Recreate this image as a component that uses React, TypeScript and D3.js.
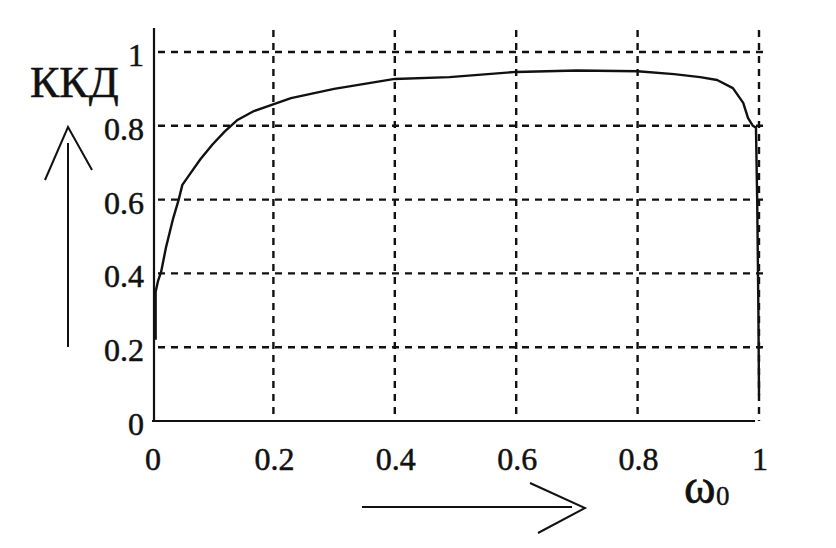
import React from "react";
import * as d3 from "d3";

const effX = [0.006, 0.006, 0.01, 0.015, 0.023, 0.035, 0.044, 0.05, 0.065, 0.08, 0.1, 0.12, 0.14, 0.168, 0.196, 0.229, 0.3, 0.4, 0.49, 0.6, 0.7, 0.8, 0.86, 0.903, 0.931, 0.957, 0.974, 0.982, 0.99, 0.995, 0.997, 0.999, 1.0];
const effY = [0.22, 0.35, 0.38, 0.404, 0.47, 0.55, 0.6, 0.64, 0.675, 0.71, 0.75, 0.785, 0.815, 0.84, 0.856, 0.875, 0.9, 0.927, 0.932, 0.946, 0.95, 0.948, 0.94, 0.932, 0.924, 0.902, 0.862, 0.821, 0.8, 0.795, 0.6, 0.3, 0.07];
const xTicks = [0, 0.2, 0.4, 0.6, 0.8, 1];
const yTicks = [0, 0.2, 0.4, 0.6, 0.8, 1];
const xTickLabels = ["0", "0.2", "0.4", "0.6", "0.8", "1"];
const yTickLabels = ["0", "0.2", "0.4", "0.6", "0.8", "1"];
const yTitle = "ККД";
const xTitle = "ω";
const xTitleSub = "0";

export default function App() {
  const W = 836, H = 548;
  const x = d3.scaleLinear().domain([0, 1]).range([152, 759]);
  const y = d3.scaleLinear().domain([0, 1]).range([421, 52]);
  const pts: [number, number][] = effX.map((v, i) => [v, effY[i]]);
  const line = d3.line<[number, number]>().x(d => x(d[0])).y(d => y(d[1]));
  const font = "'Liberation Serif', 'Times New Roman', serif";
  const dash = "7,6";
  const ink = "#111";
  return (
    <svg width={W} height={H} style={{ position: "absolute", left: 0, top: 0, background: "#fff" }}>
      <rect width={W} height={H} fill="#fff" />
      {/* grid */}
      {yTicks.filter(v => v > 0).map(v => (
        <line key={"h" + v} x1={x(0) + 6} x2={x(1) + 4} y1={y(v)} y2={y(v)} stroke={ink} strokeWidth={2.4} strokeDasharray={dash} />
      ))}
      {xTicks.filter(v => v > 0).map(v => (
        <line key={"v" + v} x1={x(v)} x2={x(v)} y1={30} y2={y(0)} stroke={ink} strokeWidth={2.4} strokeDasharray={dash} />
      ))}
      {/* axes */}
      <line x1={x(0) + 2} x2={x(0) + 2} y1={28} y2={y(0)} stroke={ink} strokeWidth={2.2} />
      <line x1={x(0)} x2={x(1) - 4} y1={y(0)} y2={y(0)} stroke={ink} strokeWidth={2.2} />
      {/* curve */}
      <path d={line(pts) || ""} fill="none" stroke={ink} strokeWidth={2.4} strokeLinejoin="round" />
      {/* tick labels */}
      {yTicks.map((v, i) => (
        <text key={"yl" + v} x={144} y={y(v) + 3} textAnchor="end" dominantBaseline="central" fontFamily={font} fontSize={32} fill={ink} stroke={ink} strokeWidth={0.5}>{yTickLabels[i]}</text>
      ))}
      {xTicks.map((v, i) => (
        <text key={"xl" + v} x={x(v) + 1} y={470} textAnchor="middle" fontFamily={font} fontSize={32} fill={ink} stroke={ink} strokeWidth={0.5}>{xTickLabels[i]}</text>
      ))}
      {/* titles */}
      <text x={30} y={97} fontFamily={font} fontSize={44} fill={ink} stroke={ink} strokeWidth={0.5}>{yTitle}</text>
      <text x={684} y={503} fontFamily={font} fontSize={48} fill={ink} stroke={ink} strokeWidth={0.6}>{xTitle}</text>
      <text x={716} y={505} fontFamily={font} fontSize={27} fill={ink} stroke={ink} strokeWidth={0.4}>{xTitleSub}</text>
      {/* up arrow */}
      <line x1={68} x2={68} y1={143} y2={347} stroke={ink} strokeWidth={2} />
      <polyline points="45,180 68,127 92,170" fill="none" stroke={ink} strokeWidth={2} />
      {/* right arrow */}
      <line x1={362} x2={572} y1={507} y2={507} stroke={ink} strokeWidth={2} />
      <polyline points="530,483 585,508 538,533" fill="none" stroke={ink} strokeWidth={2} />
    </svg>
  );
}
